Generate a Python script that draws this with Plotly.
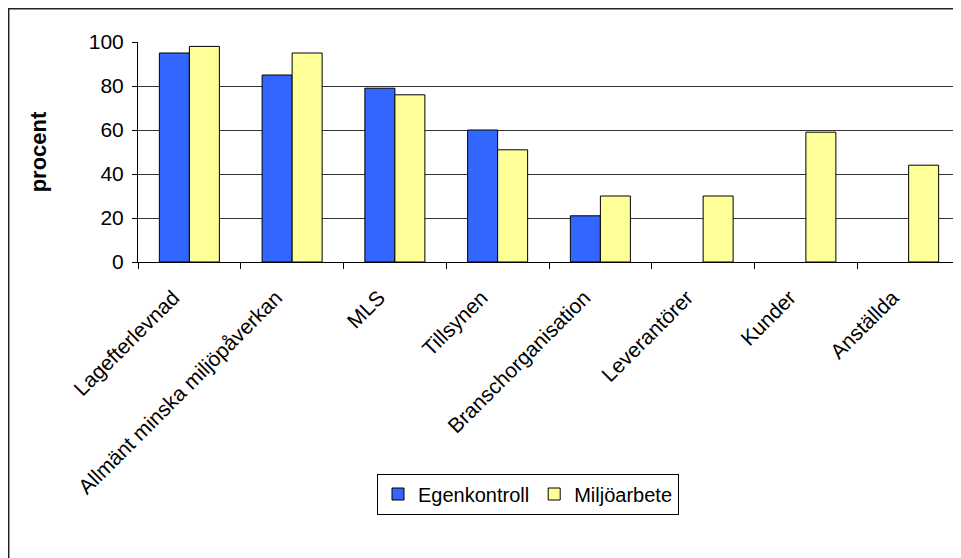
import plotly.graph_objects as go

categories = ["Lagefterlevnad", "Allmänt minska miljöpåverkan", "MLS", "Tillsynen",
              "Branschorganisation", "Leverantörer", "Kunder", "Anställda"]
egenkontroll = [95, 85, 79, 60, 21, None, None, None]
miljoarbete = [98, 95, 76, 51, 30, 30, 59, 44]
y_ticks = [0, 20, 40, 60, 80, 100]

FONT = "Liberation Sans, Arial, sans-serif"

# the page body has an 8px margin: work in window pixels and convert
OFF = 8
W, H = 961, 558
# plot area in window pixels
PX_L, PX_R, PX_T, PX_B = 138, 960, 42, 262
L = PX_L - OFF
T = PX_T - OFF
R = W - (PX_R - OFF)
B = H - (PX_B - OFF)
pw = PX_R - PX_L
ph = PX_B - PX_T

def px_x(x):
    return (x - PX_L) / pw

def px_y(y):
    return (PX_B - y) / ph

fig = go.Figure()
fig.add_trace(go.Bar(name="Egenkontroll", x=categories, y=egenkontroll,
                     marker=dict(color="#3366FF", line=dict(color="#000000", width=1))))
fig.add_trace(go.Bar(name="Miljöarbete", x=categories, y=miljoarbete,
                     marker=dict(color="#FFFF99", line=dict(color="#000000", width=1))))

fig.update_layout(
    width=W, height=H,
    margin=dict(l=L, r=R, t=T, b=B),
    paper_bgcolor="white", plot_bgcolor="white",
    barmode="group", bargap=0.416, bargroupgap=0,
    font=dict(family=FONT, size=21, color="#000000"),
    showlegend=True,
    legend=dict(orientation="h", x=px_x(528), y=px_y(494), xanchor="center", yanchor="middle",
                bordercolor="#000000", borderwidth=1, bgcolor="white",
                font=dict(family=FONT, size=20), itemwidth=30, tracegroupgap=0),
    xaxis=dict(type="category", showline=True, linecolor="#000000", linewidth=1,
               ticks="outside", tickson="boundaries", ticklen=6, tickcolor="#000000",
               tickangle=-45, showgrid=False, automargin=False,
               ticklabelstandoff=14, ticklabelshift=-16,
               tickfont=dict(family=FONT, size=21)),
    yaxis=dict(range=[0, 100], tickvals=y_ticks, showline=True, linecolor="#000000", linewidth=1,
               ticks="outside", ticklen=5, tickcolor="#000000",
               showgrid=True, gridcolor="#333333", gridwidth=1, zeroline=False,
               ticklabelstandoff=4,
               tickfont=dict(family=FONT, size=21), automargin=True,
               title=dict(text="<b>procent</b>", font=dict(family=FONT, size=22), standoff=36)),
    shapes=[
        dict(type="rect", xref="paper", yref="paper", x0=px_x(8.7), y0=px_y(8.7), x1=px_x(990), y1=px_y(600),
             line=dict(color="#222222", width=1.5), fillcolor="rgba(0,0,0,0)", layer="below"),
        dict(type="line", xref="paper", yref="paper", x0=1, x1=1, y0=0, y1=1,
             line=dict(color="#888888", width=1.5)),
    ],
)

fig.write_html("out.html")
